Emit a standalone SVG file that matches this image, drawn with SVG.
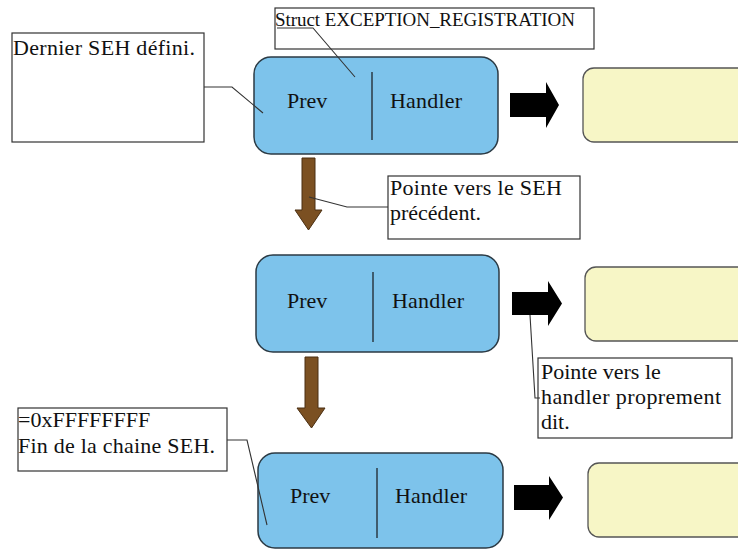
<svg xmlns="http://www.w3.org/2000/svg" width="738" height="550" viewBox="0 0 738 550">
  <style>
    .rec { fill: #7dc3eb; stroke: #2b3a44; stroke-width: 1.5; }
    .div { stroke: #2b3a44; stroke-width: 1.5; }
    .hdl { fill: #f7f6c6; stroke: #555; stroke-width: 1.3; }
    .note { fill: #fff; stroke: #333; stroke-width: 1.2; }
    .lead { fill: none; stroke: #333; stroke-width: 1.1; }
    .down { fill: #7b5022; stroke: #4a2f12; stroke-width: 1; }
    .right { fill: #000; }
    text { font-family: "Liberation Serif", "Times New Roman", serif; font-size: 22px; fill: #111; }
  </style>
  <rect width="738" height="550" fill="#fff"/>

  <!-- handler blocks -->
  <g id="handler1"><rect class="hdl" x="583" y="68" width="170" height="74" rx="11"/></g>
  <g id="handler2"><rect class="hdl" x="585" y="267" width="170" height="74" rx="11"/></g>
  <g id="handler3"><rect class="hdl" x="588" y="463" width="170" height="74" rx="11"/></g>

  <!-- registration records -->
  <g id="record1">
    <rect class="rec" x="254" y="57" width="244" height="97" rx="17"/>
    <line class="div" x1="372" y1="72" x2="372" y2="140"/>
    <text x="287" y="108">Prev</text>
    <text x="390" y="108" textLength="72">Handler</text>
  </g>
  <g id="record2">
    <rect class="rec" x="256" y="255" width="243" height="97" rx="17"/>
    <line class="div" x1="373" y1="272" x2="373" y2="342"/>
    <text x="287" y="308">Prev</text>
    <text x="392" y="308" textLength="72">Handler</text>
  </g>
  <g id="record3">
    <rect class="rec" x="258" y="453" width="245" height="95" rx="17"/>
    <line class="div" x1="377" y1="468" x2="377" y2="538"/>
    <text x="290" y="503">Prev</text>
    <text x="395" y="503" textLength="72">Handler</text>
  </g>

  <!-- notes -->
  <g id="note-last">
    <rect class="note" x="12" y="33" width="192" height="109"/>
    <text x="13" y="55" textLength="182">Dernier SEH défini.</text>
  </g>
  <g id="note-struct">
    <rect class="note" x="275" y="8" width="319" height="41"/>
    <text x="275" y="26" style="font-size:19px" textLength="300">Struct EXCEPTION_REGISTRATION</text>
  </g>
  <g id="note-prev">
    <rect class="note" x="388" y="176" width="192" height="63"/>
    <text x="390" y="195" textLength="172">Pointe vers le SEH</text>
    <text x="390" y="220">précédent.</text>
  </g>
  <g id="note-handler">
    <rect class="note" x="538" y="358" width="194" height="80"/>
    <text x="541" y="379">Pointe vers le</text>
    <text x="541" y="404" textLength="180">handler proprement</text>
    <text x="541" y="429">dit.</text>
  </g>
  <g id="note-end">
    <rect class="note" x="18" y="408" width="209" height="63"/>
    <text x="18" y="427">=0xFFFFFFFF</text>
    <text x="18" y="453" textLength="197">Fin de la chaine SEH.</text>
  </g>

  <!-- connectors -->
  <g id="connectors">
    <path class="down" d="M302,158 H315 V210 H322 L308.5,230 L295,210 H302 Z"/>
    <path class="down" d="M305,357 H318 V408 H325 L311.5,428 L297,408 H305 Z"/>
    <path class="right" d="M510,93 H546 V82 L559,105 L546,128 V117 H510 Z"/>
    <path class="right" d="M512,292 H548 V281 L562,303.5 L548,326 V315 H512 Z"/>
    <path class="right" d="M514,485 H549 V476 L563,497.5 L549,520 V510 H514 Z"/>
    <polyline class="lead" points="204,87 232,87 263,113"/>
    <polyline class="lead" points="277,28 313,28 355,77"/>
    <polyline class="lead" points="309,197 347,207 388,207"/>
    <polyline class="lead" points="530,315 535,398 540,398"/>
    <polyline class="lead" points="227,440 247,440 267,525"/>
  </g>
</svg>
